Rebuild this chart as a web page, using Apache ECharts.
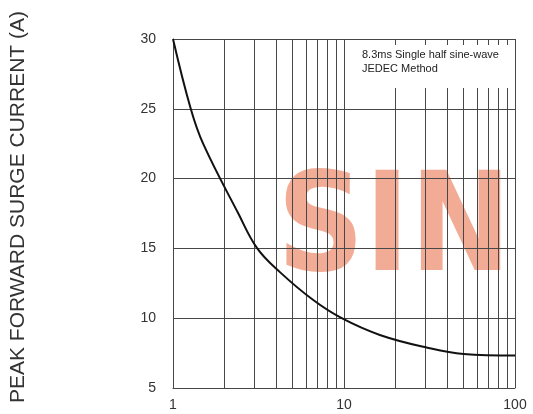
<!DOCTYPE html>
<html>
<head>
<meta charset="utf-8">
<script src="https://cdn.jsdelivr.net/npm/echarts@6/dist/echarts.min.js"></script>
<style>
html,body{margin:0;padding:0;background:#fff;}
#chart{width:533px;height:414px;}
</style>
</head>
<body>
<div id="chart"></div>
<script>
// Curve data: number of cycles at 60Hz (log x) vs peak forward surge current (A)
var cycles  = [1, 1.27, 1.5, 2.41, 3.11, 4.22, 6.61, 9.7, 16.2, 30.4, 50, 100];
var current = [30, 25, 22.5, 17.5, 15, 13.3, 11.3, 10, 8.8, 7.9, 7.44, 7.33];
// Minor log grid lines
var minorGrid = [2, 3, 4, 5, 6, 7, 8, 9, 20, 30, 40, 50, 60, 70, 80, 90];
var yTicks = [5, 10, 15, 20, 25, 30];
var yTitle = 'PEAK FORWARD SURGE CURRENT (A)';
var noteLines = ['8.3ms Single half sine-wave', 'JEDEC Method'];
var watermark = 'SIN';

var chart = echarts.init(document.getElementById('chart'), null, {renderer: 'canvas'});
var gridColor = '#474747';
chart.setOption({
  animation: false,
  backgroundColor: '#fff',
  grid: {left: 173, right: 18, top: 39, bottom: 26},
  xAxis: {
    type: 'log', logBase: 10, min: 1, max: 100,
    axisLine: {show: true, lineStyle: {color: gridColor, width: 1}},
    axisTick: {show: false},
    axisLabel: {color: '#333', fontSize: 14, fontFamily: 'Liberation Sans', margin: 10},
    splitLine: {show: true, lineStyle: {color: gridColor, width: 1}}
  },
  yAxis: {
    type: 'value', min: yTicks[0], max: yTicks[yTicks.length - 1], interval: 5,
    axisLine: {show: true, lineStyle: {color: gridColor, width: 1}},
    axisTick: {show: false},
    axisLabel: {color: '#333', fontSize: 14, fontFamily: 'Liberation Sans', margin: 17},
    splitLine: {show: true, lineStyle: {color: gridColor, width: 1}}
  },
  graphic: [
    {
      type: 'text', z: -10, x: 277, y: 234, scaleX: 0.88, scaleY: 1,
      style: {text: watermark, fill: '#f1a58d', opacity: 0.92,
        font: 'bold 138px "DejaVu Sans"', verticalAlign: 'middle', align: 'left'}
    },
    {
      type: 'text', x: 18, y: 207, rotation: Math.PI / 2,
      style: {text: yTitle, fill: '#333', font: '21px "Liberation Sans"',
        align: 'center', verticalAlign: 'middle'}
    },
    {
      type: 'rect', z: 40, silent: true,
      shape: {x: 355, y: 45, width: 158, height: 43},
      style: {fill: '#fff'}
    },
    {
      type: 'text', x: 362, y: 62, z: 50,
      style: {text: noteLines.join('\n'), fill: '#222', font: '11px "Liberation Sans"',
        lineHeight: 14, align: 'left', verticalAlign: 'middle'}
    }
  ],
  series: [
    {
      type: 'line', smooth: 0.4, symbol: 'none', z: 5,
      data: cycles.map(function (c, i) { return [c, current[i]]; }),
      lineStyle: {color: '#111', width: 2},
      markLine: {
        silent: true, symbol: 'none', animation: false,
        label: {show: false},
        lineStyle: {color: gridColor, width: 1, type: 'solid'},
        data: minorGrid.map(function (v) { return {xAxis: v}; })
      }
    }
  ]
});
</script>
</body>
</html>
